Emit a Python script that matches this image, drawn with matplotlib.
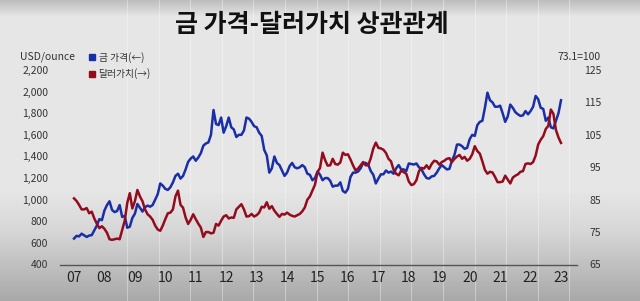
import numpy as np
import matplotlib
matplotlib.use("Agg")
import matplotlib.pyplot as plt
from matplotlib.lines import Line2D

plt.rcParams['font.family'] = ['Noto Sans CJK KR', 'DejaVu Sans']

# 월별 값 (2007.01 ~ 2023.01)
gold = [
    640, 665, 660, 685, 670, 655, 668, 672, 715, 760, 820, 810,
    900, 950, 985, 905, 885, 895, 950, 840, 850, 740, 750, 830,
    870, 960, 925, 890, 930, 945, 935, 950, 1000, 1050, 1150, 1130,
    1100, 1090, 1115, 1160, 1220, 1240, 1195, 1220, 1280, 1350, 1380, 1400,
    1360, 1390, 1430, 1500, 1520, 1530, 1600, 1830, 1700, 1690, 1760, 1620,
    1680, 1760, 1670, 1650, 1580, 1600, 1600, 1640, 1760, 1750, 1720, 1680,
    1670, 1620, 1590, 1460, 1410, 1250, 1290, 1400, 1340, 1320, 1270, 1220,
    1250, 1310, 1340, 1300, 1290, 1300, 1320, 1300, 1240, 1230, 1180, 1200,
    1260, 1230, 1180, 1200, 1200, 1175, 1120, 1130, 1130, 1160, 1080, 1065,
    1100, 1210, 1250, 1250, 1260, 1290, 1340, 1340, 1325, 1265, 1230, 1150,
    1195, 1235, 1235, 1270, 1250, 1260, 1240, 1290, 1320, 1280, 1280, 1265,
    1335, 1330, 1325, 1335, 1300, 1280, 1235, 1200, 1195, 1215, 1220, 1250,
    1290, 1320, 1300, 1280, 1285, 1360, 1415, 1510, 1510, 1495, 1470, 1480,
    1560, 1600, 1590, 1690, 1720, 1730, 1850, 1990, 1920, 1900, 1860, 1860,
    1870, 1800, 1720, 1770, 1880, 1850, 1810, 1790, 1775, 1780, 1820, 1790,
    1820, 1860, 1960, 1930, 1850, 1840, 1730, 1760, 1670, 1660, 1730, 1800,
    1920,
]
dollar = [
    85.4, 84.6, 83.4, 82.0, 82.0, 82.4, 80.8, 81.3, 79.2, 77.6, 76.2, 76.8,
    76.0, 74.8, 72.8, 72.6, 72.8, 73.0, 72.8, 75.6, 78.5, 84.0, 87.0, 82.3,
    84.5, 88.0, 86.0, 84.5, 82.0, 80.5, 79.8, 78.8, 77.0, 75.8, 75.4, 77.0,
    79.0, 80.8, 81.0, 82.0, 86.0, 87.8, 83.4, 82.5, 79.5, 77.5, 78.8, 80.5,
    79.0, 77.6, 76.4, 73.5, 75.0, 75.0, 74.6, 74.8, 77.5, 77.0, 78.5, 79.8,
    80.2, 79.2, 79.5, 79.4, 82.0, 82.8, 83.6, 82.0, 79.8, 79.9, 80.6, 79.8,
    80.2, 81.0, 82.8, 82.6, 84.2, 82.2, 83.0, 81.6, 80.6, 79.7, 80.6, 80.4,
    81.0, 80.4, 80.0, 79.8, 80.2, 80.6, 81.4, 82.6, 85.0, 86.0, 87.8, 89.6,
    93.5, 94.8, 99.5, 97.2, 95.5, 95.6, 97.6, 96.0, 95.8, 96.5, 99.5, 98.8,
    99.0, 97.4, 95.6, 94.0, 94.6, 95.6, 96.6, 95.6, 95.6, 97.8, 100.8, 102.6,
    101.0, 100.8, 100.4, 99.4, 97.6, 96.8, 94.2, 93.0, 92.5, 94.0, 93.5, 93.0,
    90.6, 89.5, 89.8, 91.0, 93.8, 94.8, 94.6, 95.6, 94.5, 96.0, 97.0, 96.8,
    95.8, 96.6, 97.0, 97.6, 97.8, 96.6, 97.6, 98.3, 98.8, 97.6, 98.2, 97.0,
    97.6, 99.0, 101.5, 100.0, 99.2, 96.8, 94.2, 93.0, 93.6, 93.4, 92.0, 90.4,
    90.4, 90.6, 92.4, 91.2, 90.0, 91.8, 92.4, 92.8, 93.6, 93.8, 96.0, 96.2,
    96.0, 96.6, 98.6, 102.0, 103.5, 104.6, 106.8, 107.8, 112.8, 111.5, 106.5, 104.2,
    102.5,
]
start_year = 2007
year_ticks = list(range(2007, 2024))
year_labels = [f"{y % 100:02d}" for y in year_ticks]
left_ticks = list(range(400, 2201, 200))
right_ticks = list(range(65, 126, 10))

t = start_year + np.arange(len(gold)) / 12

W, H = 640, 301
fig = plt.figure(figsize=(W / 100, H / 100), dpi=100)

# 배경 그라데이션
bg = fig.add_axes([0, 0, 1, 1], zorder=-10)
rows = np.arange(H)
shade = np.interp(rows, [0, 6, 16, 190, 230, 300], [0.74, 0.80, 0.90, 0.90, 0.84, 0.66])
bg.imshow(np.repeat(shade[:, None], 2, axis=1), cmap='gray', vmin=0, vmax=1,
          aspect='auto', extent=[0, W, H, 0])
for gx in np.arange(127, 577, 31.6):
    bg.axvline(gx, color='white', lw=0.8, alpha=0.35)
bg.set_xlim(0, W)
bg.set_ylim(H, 0)
bg.axis('off')

ax = fig.add_axes([60 / W, 1 - 264.5 / H, 517 / W, 194.5 / H])
ax.patch.set_alpha(0)
ax2 = ax.twinx()

ax.plot(t, gold, color='#1b2ea6', lw=1.8, zorder=3)
ax2.plot(t, dollar, color='#930c1e', lw=1.8)

ax.set_xlim(2007 - 14 / 30.44, 2023 + 16 / 30.44)
ax.set_ylim(400, 2200)
ax2.set_ylim(65, 125)

for a in (ax, ax2):
    for s in a.spines.values():
        s.set_visible(False)
ax.spines['bottom'].set_visible(True)
ax.spines['bottom'].set_color('#555555')
ax.spines['bottom'].set_linewidth(1.0)

ax.set_xticks(year_ticks)
ax.set_xticklabels(year_labels, fontsize=10, color='#222222')
ax.tick_params(axis='x', length=0, pad=5)

ax.set_yticks(left_ticks)
ax.set_yticklabels([f"{v:,}" for v in left_ticks], fontsize=7.5, color='#333333')
ax.tick_params(axis='y', length=0, pad=8.5)

ax2.set_yticks(right_ticks)
ax2.set_yticklabels([str(v) for v in right_ticks], fontsize=7.5, color='#333333', ha='right')
ax2.tick_params(axis='y', length=0, pad=17.5)

fig.text(20 / W, 1 - 57 / H, "USD/ounce", fontsize=7.5, color='#333333', va='center', ha='left')
fig.text(601 / W, 1 - 57 / H, "73.1=100", fontsize=7.5, color='#333333', va='center', ha='right')

fig.text(0.487, 1 - 25 / H, "금 가격-달러가치 상관관계", fontsize=18, fontweight='black',
         color='#111111', ha='center', va='center')

handles = [Line2D([], [], marker='s', ls='', color='#1b2ea6', markersize=5),
           Line2D([], [], marker='s', ls='', color='#930c1e', markersize=5)]
ax.legend(handles, ["금 가격(←)", "달러가치(→)"], loc='upper left',
          bbox_to_anchor=(84 / W, 1 - 47 / H), bbox_transform=fig.transFigure,
          frameon=False, fontsize=7, handlelength=0.6, handletextpad=0.4,
          labelspacing=0.55, borderpad=0, labelcolor='#333333')

fig.savefig("out.png", dpi=100)
